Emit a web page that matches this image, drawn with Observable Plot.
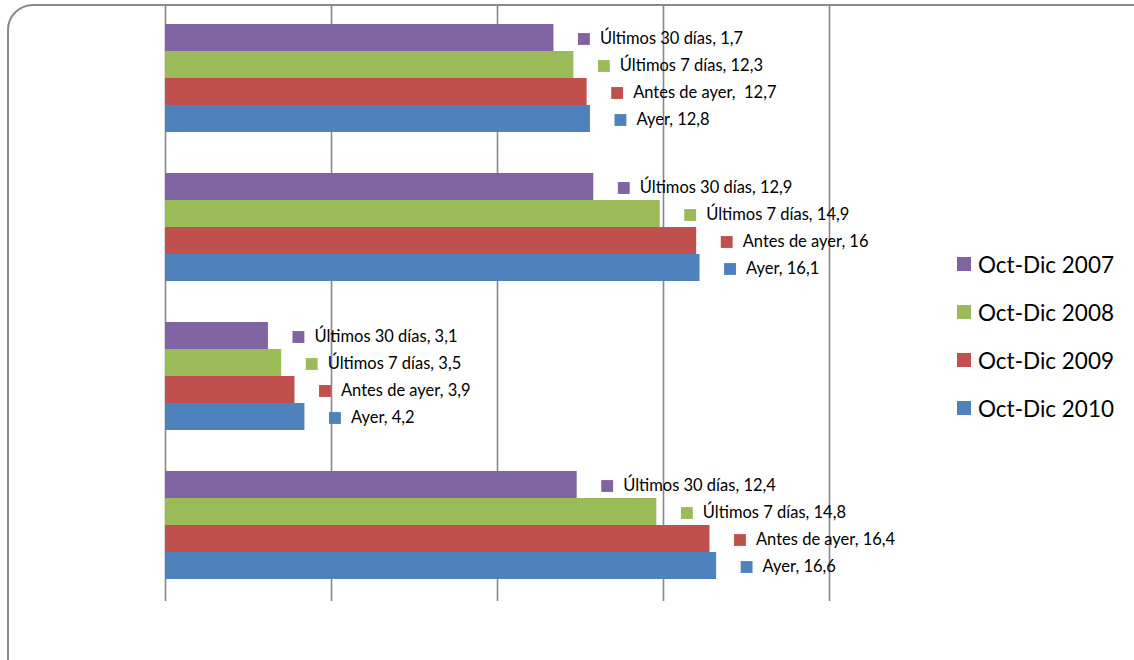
<!DOCTYPE html>
<html>
<head>
<meta charset="utf-8">
<script src="https://cdn.jsdelivr.net/npm/d3@7"></script>
<script src="https://cdn.jsdelivr.net/npm/@observablehq/plot@0.6"></script>
<style>
  html, body { margin: 0; padding: 0; background: #fff; }
  #wrap { position: relative; width: 1134px; height: 660px; overflow: hidden; font-family: Lato, "Open Sans", sans-serif; }
  #frame { position: absolute; left: 7px; top: 4px; width: 1160px; height: 700px; border: 2px solid #8a8a8a; border-radius: 26px; box-sizing: border-box; }
  #chart { position: absolute; left: 0; top: 0; }
  #legend { position: absolute; left: 957px; top: 240px; }
  .li { display: flex; align-items: center; height: 48px; font-size: 22.5px; color: #000; }
  .sw { width: 14px; height: 14px; margin-right: 7px; }
</style>
</head>
<body>
<div id="wrap">
  <div id="frame"></div>
  <div id="chart"></div>
  <div id="legend"></div>
</div>
<script>
const groups = ["Grupo 1", "Grupo 2", "Grupo 3", "Grupo 4"];
const series = ["Oct-Dic 2007", "Oct-Dic 2008", "Oct-Dic 2009", "Oct-Dic 2010"];
const periods = ["Últimos 30 días", "Últimos 7 días", "Antes de ayer", "Ayer"];
const colors = ["#8064A2", "#9BBB59", "#C0504D", "#4F81BD"];
const xTicks = [0, 5, 10, 15, 20];

const group1Values = [11.7, 12.3, 12.7, 12.8];
const group2Values = [12.9, 14.9, 16.0, 16.1];
const group3Values = [3.1, 3.5, 3.9, 4.2];
const group4Values = [12.4, 14.8, 16.4, 16.6];

const group1Labels = ["1,7", "12,3", " 12,7", "12,8"];
const group2Labels = ["12,9", "14,9", "16", "16,1"];
const group3Labels = ["3,1", "3,5", "3,9", "4,2"];
const group4Labels = ["12,4", "14,8", "16,4", "16,6"];

const allValues = [group1Values, group2Values, group3Values, group4Values];
const allLabels = [group1Labels, group2Labels, group3Labels, group4Labels];

const data = [];
groups.forEach((g, gi) => {
  series.forEach((s, si) => {
    data.push({group: g, series: s, period: periods[si], value: allValues[gi][si], label: allLabels[gi][si]});
  });
});

const chart = Plot.plot({
  width: 1134,
  height: 660,
  marginTop: 4,
  marginBottom: 59,
  marginLeft: 165,
  marginRight: 305,
  style: {fontFamily: "Lato, 'Open Sans', sans-serif", background: "transparent", overflow: "visible"},
  x: {domain: [0, 20], axis: null},
  y: {domain: series, paddingInner: 0, paddingOuter: 0.74, align: 0.47, axis: null},
  fy: {domain: groups, padding: 0, axis: null},
  color: {domain: series, range: colors},
  marks: [
    Plot.ruleX(xTicks, {stroke: "#888", strokeWidth: 1.6}),
    Plot.barX(data, {x: "value", y: "series", fy: "group", fill: "series"}),
    Plot.dot(data, {x: "value", y: "series", fy: "group", fill: "series", symbol: "square", r: 6.7, dx: 30, dy: 1}),
    Plot.text(data, {x: "value", y: "series", fy: "group", text: d => d.period + ", " + d.label, dx: 46, dy: 1, textAnchor: "start", fontSize: 16.5, fill: "#000"})
  ]
});
document.getElementById("chart").appendChild(chart);

const legend = document.getElementById("legend");
series.forEach((s, i) => {
  const row = document.createElement("div");
  row.className = "li";
  const sw = document.createElement("span");
  sw.className = "sw";
  sw.style.background = colors[i];
  const t = document.createElement("span");
  t.textContent = s;
  row.appendChild(sw);
  row.appendChild(t);
  legend.appendChild(row);
});
</script>
</body>
</html>
